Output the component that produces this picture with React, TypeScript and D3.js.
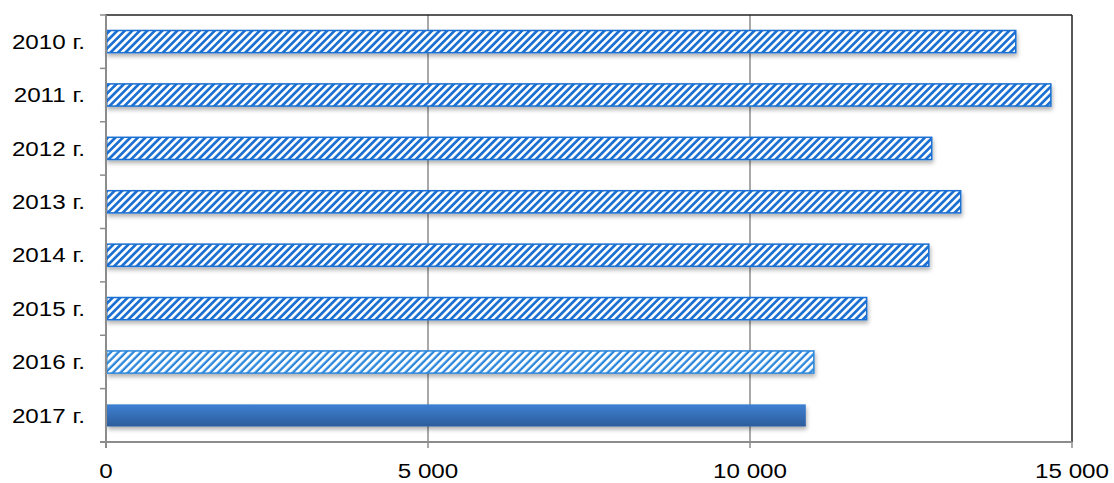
import React from "react";
import * as d3 from "d3";

const categories = ["2010 г.", "2011 г.", "2012 г.", "2013 г.", "2014 г.", "2015 г.", "2016 г.", "2017 г."];
const values = [14115, 14660, 12810, 13260, 12765, 11800, 10980, 10855];
const ticks = [0, 5000, 10000, 15000];
const tickLabels = ["0", "5 000", "10 000", "15 000"];

const W = 1114, H = 483;
const left = 106, right = 1072, top = 15, bottom = 442;

export default function App() {
  const x = d3.scaleLinear().domain([0, 15000]).range([left, right]);
  const y = d3.scaleBand<string>().domain(categories).range([top, bottom]).paddingInner(0.585).paddingOuter(0.29);
  const step = (bottom - top) / categories.length;
  const font = "'Liberation Sans', Arial, sans-serif";
  const sx = 1.18;
  return (
    <svg width={W} height={H} style={{ position: "absolute", left: 0, top: 0, background: "#fff" }}>
      <defs>
        <pattern id="stripes" patternUnits="userSpaceOnUse" width="5.3" height="5.3" patternTransform="rotate(45)">
          <rect width="5.3" height="5.3" fill="#1a6fd2" />
          <rect width="2.6" height="5.3" fill="#ffffff" />
        </pattern>
        <pattern id="stripesLight" patternUnits="userSpaceOnUse" width="5.3" height="5.3" patternTransform="rotate(45)">
          <rect width="5.3" height="5.3" fill="#2a86dc" />
          <rect width="3.0" height="5.3" fill="#ffffff" />
        </pattern>
        <linearGradient id="solid" x1="0" y1="0" x2="0" y2="1">
          <stop offset="0" stopColor="#3f80d2" />
          <stop offset="1" stopColor="#2c5d9c" />
        </linearGradient>
        <filter id="shadow" x="-5%" y="-30%" width="110%" height="180%">
          <feDropShadow dx="1" dy="3" stdDeviation="2" floodColor="#000" floodOpacity="0.3" />
        </filter>
      </defs>
      {ticks.slice(1, -1).map((t) => (
        <line key={t} x1={x(t)} x2={x(t)} y1={top} y2={bottom} stroke="#8c8c8c" strokeWidth={1.5} />
      ))}
      <line x1={left - 1} x2={right} y1={top} y2={top} stroke="#222" strokeWidth={1.5} />
      <line x1={right} x2={right} y1={top} y2={bottom} stroke="#222" strokeWidth={1.5} />
      {categories.map((c, i) => {
        const last = i === categories.length - 1;
        const light = i === categories.length - 2;
        const fill = last ? "url(#solid)" : light ? "url(#stripesLight)" : "url(#stripes)";
        return (
          <rect
            key={c}
            x={x(0) + 0.75}
            y={y(c)!}
            width={x(values[i]) - x(0)}
            height={y.bandwidth()}
            fill={fill}
            stroke={last ? "none" : light ? "#2a86dc" : "#1a6fd2"}
            strokeWidth={last ? 0 : 1.5}
            filter="url(#shadow)"
          />
        );
      })}
      <line x1={left} x2={left} y1={top} y2={bottom + 6} stroke="#8c8c8c" strokeWidth={2} />
      <line x1={left - 6} x2={right} y1={bottom} y2={bottom} stroke="#8c8c8c" strokeWidth={2} />
      {d3.range(categories.length).map((i) => (
        <line key={i} x1={left - 6} x2={left} y1={top + step * i} y2={top + step * i} stroke="#8c8c8c" strokeWidth={1.5} />
      ))}
      {ticks.map((t) => (
        <line key={t} x1={x(t)} x2={x(t)} y1={bottom} y2={bottom + 6} stroke="#8c8c8c" strokeWidth={1.5} />
      ))}
      {categories.map((c) => (
        <text
          key={c}
          transform={`translate(85,${y(c)! + y.bandwidth() / 2}) scale(${sx},1)`}
          dy="0.35em"
          textAnchor="end"
          fontFamily={font}
          fontSize={20.5}
          fill="#000"
        >
          {c}
        </text>
      ))}
      {ticks.map((t, i) => (
        <text
          key={t}
          transform={`translate(${x(t)},478) scale(${sx},1)`}
          textAnchor="middle"
          fontFamily={font}
          fontSize={20.5}
          fill="#000"
        >
          {tickLabels[i]}
        </text>
      ))}
    </svg>
  );
}
